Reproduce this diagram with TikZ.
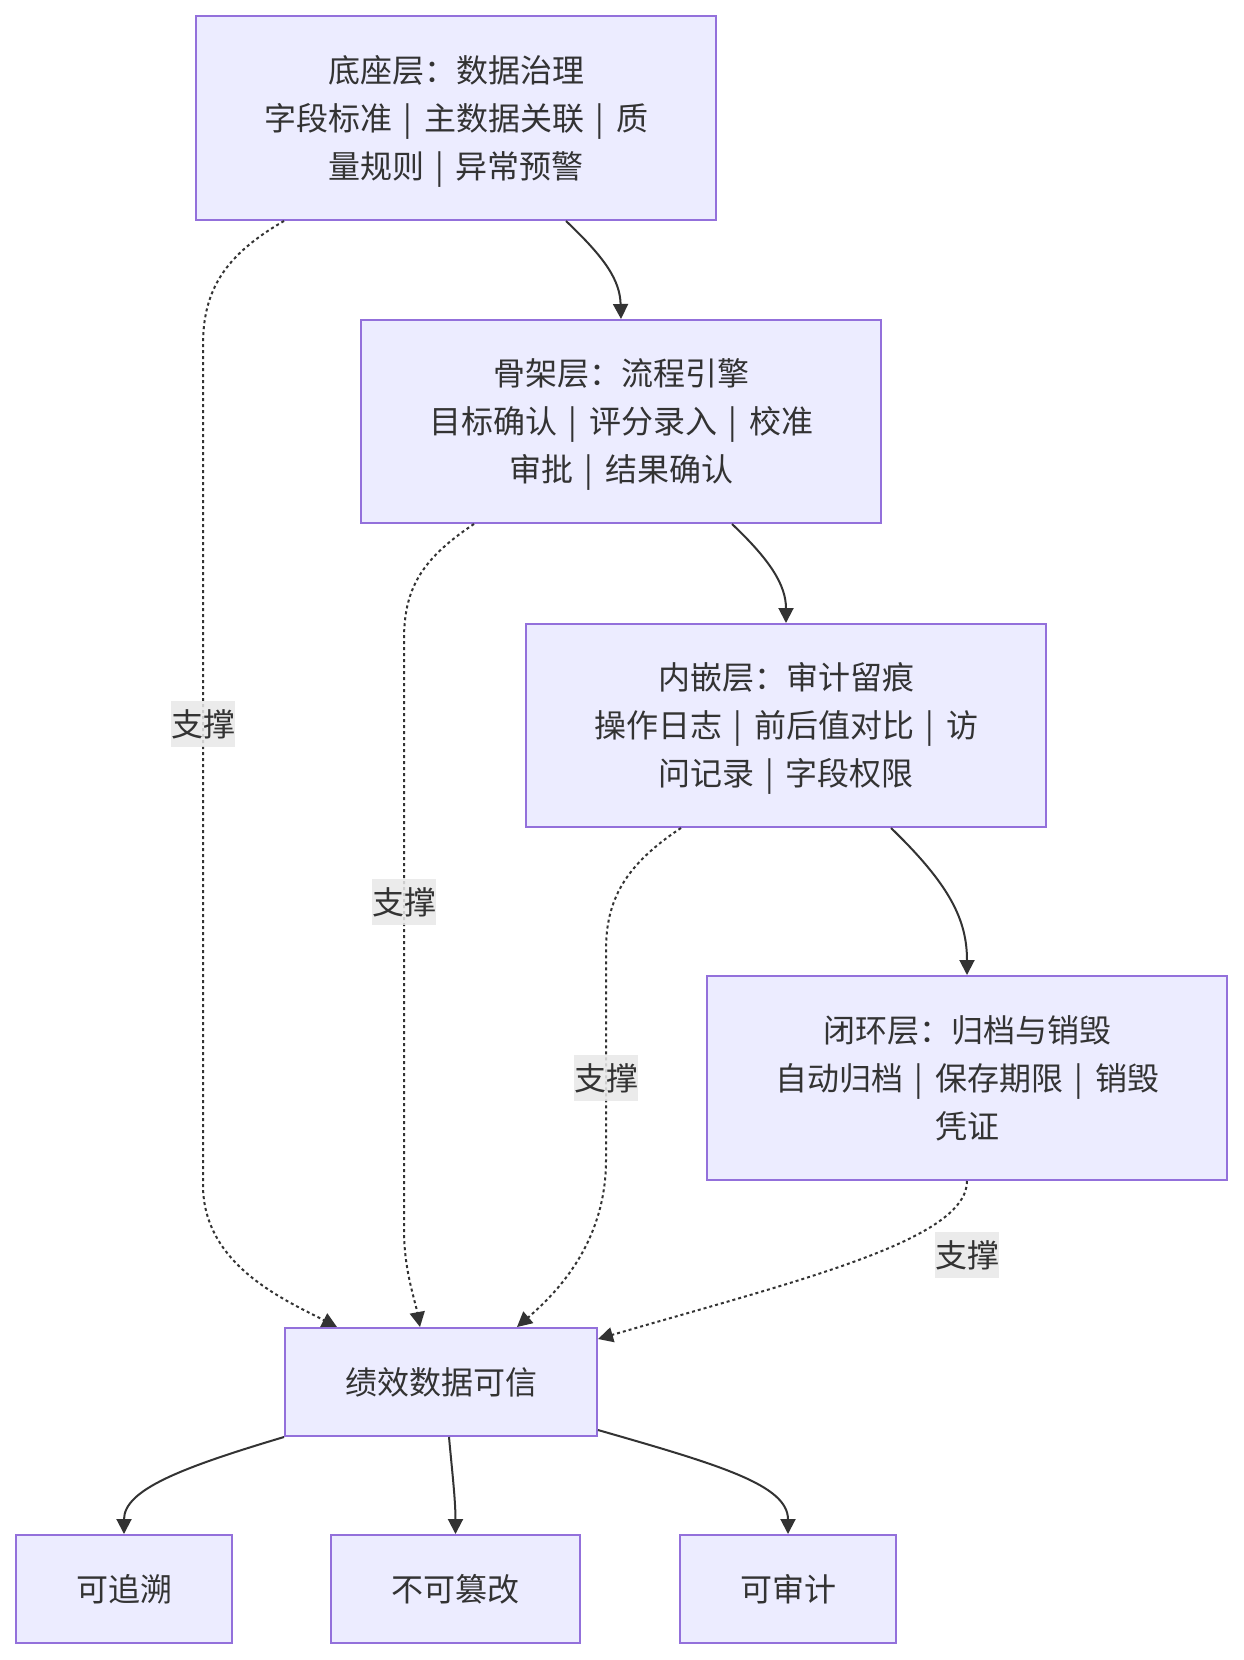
\documentclass[tikz,border=0pt]{standalone}
\usepackage{fontspec}
\setmainfont{Noto Sans CJK SC}
\usetikzlibrary{arrows.meta,calc}
\definecolor{nodefill}{HTML}{ECECFF}
\definecolor{nodeedge}{HTML}{9370DB}
\definecolor{ink}{HTML}{333333}
\definecolor{lblbg}{HTML}{E8E8E8}
\newcommand\sepbar{\makebox[1em]{\smash{|}}}
\begin{document}
\begin{tikzpicture}[x=1pt,y=-1pt,
 box/.style={draw=nodeedge, fill=nodefill, line width=2pt, text=ink, align=center, font=\fontsize{32}{48}\selectfont, inner sep=0pt},
 solidedge/.style={draw=ink, line width=2pt, -{Triangle[length=15pt,width=15pt]}},
 dotedge/.style={solidedge, dash pattern=on 3pt off 3pt},
 lbl/.style={fill=lblbg, fill opacity=0.85, text opacity=1, text=ink, font=\fontsize{32}{48}\selectfont, inner xsep=0pt, inner ysep=0pt, minimum height=46pt}
]
\fill[white] (0,0) rectangle (1243,1660);
\useasboundingbox (0,0) rectangle (1243,1660);

\node[box, minimum width=520pt, minimum height=204pt] (A) at (456,118) {底座层：数据治理\\字段标准\sepbar 主数据关联\sepbar 质\\量规则\sepbar 异常预警};
\node[box, minimum width=520pt, minimum height=203pt] (B) at (621,421.5) {骨架层：流程引擎\\目标确认\sepbar 评分录入\sepbar 校准\\审批\sepbar 结果确认};
\node[box, minimum width=520pt, minimum height=203pt] (C) at (786,725.5) {内嵌层：审计留痕\\操作日志\sepbar 前后值对比\sepbar 访\\问记录\sepbar 字段权限};
\node[box, minimum width=520pt, minimum height=204pt] (D) at (967,1078) {闭环层：归档与销毁\\自动归档\sepbar 保存期限\sepbar 销毁\\凭证};
\node[box, minimum width=312pt, minimum height=108pt] (E) at (441,1382) {绩效数据可信};
\node[box, minimum width=216pt, minimum height=108pt] (F1) at (124,1589) {可追溯};
\node[box, minimum width=249pt, minimum height=108pt] (F2) at (455.5,1589) {不可篡改};
\node[box, minimum width=216pt, minimum height=108pt] (F3) at (788,1589) {可审计};

% solid chain
\draw[solidedge] ($(A.south)+(110,0)$) .. controls (605,258) and (620,280) .. (B.north);
\draw[solidedge] ($(B.south)+(111,0)$) .. controls (770,560) and (786,585) .. (C.north);
\draw[solidedge] ($(C.south)+(105,0)$) .. controls (950,885) and (967,920) .. (D.north);

% dotted supports
\draw[dotedge] ($(A.south)+(-172,0)$) .. controls (225,255) and (203,290) .. (203,345)
  -- node[lbl, pos=0.451] {支撑} (203,1185)
  .. controls (203,1265) and (285,1300) .. ($(E.north)+(-104,0)$);
\draw[dotedge] ($(B.south)+(-147,0)$) .. controls (420,560) and (404,590) .. (404,640)
  -- node[lbl, pos=0.444] {支撑} (404,1230)
  .. controls (404,1270) and (415,1300) .. ($(E.north)+(-21,0)$);
\draw[dotedge] ($(C.south)+(-105,0)$) .. controls (625,865) and (606,900) .. (606,950)
  -- node[lbl, pos=0.61] {支撑} (606,1160)
  .. controls (606,1240) and (560,1290) .. ($(E.north)+(76,0)$);
\draw[dotedge] (D.south) .. controls (967,1240) and (800,1280) .. ($(E.north east)+(0,12)$);
\node[lbl] (L4) at (967,1255) {支撑};

% results
\draw[solidedge] (E.south west) .. controls (180,1468) and (124,1490) .. (F1.north);
\draw[solidedge] ($(E.south)+(8,0)$) .. controls (452,1470) and (455.5,1500) .. (F2.north);
\draw[solidedge] ($(E.south east)+(0,-7)$) .. controls (720,1465) and (788,1485) .. (F3.north);
\end{tikzpicture}
\end{document}
